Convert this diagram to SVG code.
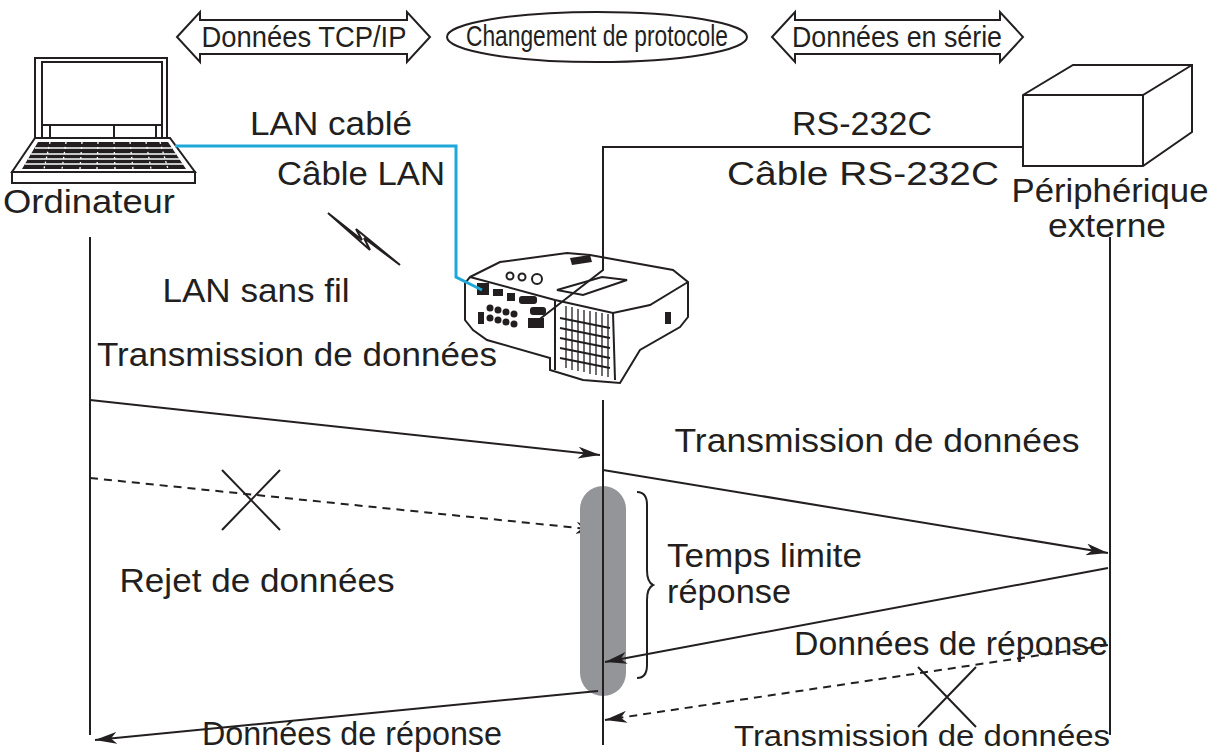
<svg xmlns="http://www.w3.org/2000/svg" width="1217" height="754" viewBox="0 0 1217 754">
<defs>
<marker id="ah" viewBox="0 0 22 12" refX="22" refY="6" markerWidth="22" markerHeight="12" markerUnits="userSpaceOnUse" orient="auto"><path d="M0,0 L22,6 L0,12 L6,6 Z" fill="#231f20"/></marker>
<style>
text{font-family:"Liberation Sans",Arial,sans-serif;fill:#231f20;font-size:33px}
.l{stroke:#231f20;stroke-width:2;fill:none}
.c{font-size:29px}
</style>
</defs>
<rect width="1217" height="754" fill="#fff"/>
<g id="laptop">
<rect x="35" y="58" width="132" height="80" class="l" fill="#fff"/>
<rect x="42" y="62" width="120" height="63" class="l" stroke-width="1.5"/>
<path d="M42,125 L42,138 M50,125 L50,138 M114,125 L114,138 M156,125 L156,138 M162,125 L162,138" class="l" stroke-width="1.5"/>
<path d="M35,138 L170,138 L195,172 L12,172 Z" class="l" fill="#fff"/>
<rect x="12" y="172" width="183" height="11" class="l" fill="#fff"/>
<path d="M38,142 L168,142 L186,169 L22,169 Z" fill="#231f20"/>
<g stroke="#fff" stroke-width="1.3">
<line x1="35" y1="148" x2="172" y2="148"/><line x1="31" y1="154" x2="176" y2="154"/><line x1="28" y1="159" x2="180" y2="159"/><line x1="25" y1="164" x2="183" y2="164"/>
<path d="M50,142 L44,169 M66,142 L62,169 M82,142 L80,169 M98,142 L97,169 M114,142 L115,169 M130,142 L133,169 M146,142 L151,169 M160,142 L168,169" stroke-dasharray="2,3"/>
</g>
<text x="89" y="213" text-anchor="middle" textLength="172" lengthAdjust="spacingAndGlyphs">Ordinateur</text>
</g>
<g id="top-labels">
<path d="M177,37 L200,12 L200,20 L407,20 L407,12 L430,37 L407,62 L407,54 L200,54 L200,62 Z" class="l" fill="#fff"/>
<text x="304" y="47" class="c" text-anchor="middle" textLength="205" lengthAdjust="spacingAndGlyphs">Données TCP/IP</text>
<ellipse cx="597" cy="37" rx="150" ry="25" class="l"/>
<text x="597" y="46" class="c" text-anchor="middle" font-size="26" textLength="262" lengthAdjust="spacingAndGlyphs">Changement de protocole</text>
<path d="M772,37 L795,12 L795,20 L1000,20 L1000,12 L1023,37 L1000,62 L1000,54 L795,54 L795,62 Z" class="l" fill="#fff"/>
<text x="897" y="47" class="c" text-anchor="middle" textLength="210" lengthAdjust="spacingAndGlyphs">Données en série</text>
</g>
<g id="device">
<path d="M1023,95 L1073,65 L1192,65 L1192,132 L1143,166 L1023,166 Z" class="l" fill="#fff"/>
<path d="M1023,95 L1143,95 L1192,65 M1143,95 L1143,166" class="l"/>
<text x="1110" y="202" text-anchor="middle" textLength="197" lengthAdjust="spacingAndGlyphs">Périphérique</text>
<text x="1107" y="237" text-anchor="middle" textLength="118" lengthAdjust="spacingAndGlyphs">externe</text>
</g>
<g id="projector">
<path d="M470,277 L500,262 L567,253 L590,255 L673,270 L688,282 L688,317 L680,327 L640,350 L620,383 L583,380 L550,370 L550,358 L487,340 L473,330 L465,320 L465,283 Z" class="l" fill="#fff"/>
<path d="M470,277 L555,300 L613,313 L650,305 L688,282" class="l" stroke-width="1.5"/>
<path d="M555,300 L555,370 M613,313 L615,380" class="l" stroke-width="1.5"/>
<path d="M557,290 L602,277 L627,280 L583,295 Z" class="l" stroke-width="1.5"/>
<path d="M570,258 L590,255 L592,262 L572,265 Z" fill="#231f20"/>
<g stroke="#231f20" stroke-width="2">
<path d="M560,318 L610,328 M560,328 L610,338 M560,338 L610,348 M560,348 L610,358 M560,358 L610,368"/>
<path d="M566,306 L566,368 M572,307 L572,370 M578,309 L578,371 M584,310 L584,372 M590,311 L590,374 M596,312 L596,375 M602,313 L602,376 M608,314 L608,377" stroke-width="1.3"/>
</g>
<g fill="#231f20">
<rect x="477" y="283" width="12" height="12"/><rect x="493" y="289" width="10" height="7"/><rect x="507" y="293" width="8" height="8"/>
<rect x="519" y="296" width="18" height="8" rx="3"/><rect x="530" y="307" width="16" height="8" rx="3"/><rect x="528" y="318" width="16" height="10"/>
<circle cx="490" cy="308" r="3.5"/><circle cx="498" cy="310" r="3.5"/><circle cx="506" cy="312" r="3.5"/><circle cx="514" cy="314" r="3.5"/>
<circle cx="490" cy="318" r="3.5"/><circle cx="498" cy="320" r="3.5"/><circle cx="506" cy="322" r="3.5"/><circle cx="514" cy="324" r="3.5"/>
<rect x="478" y="312" width="6" height="12"/><rect x="665" y="312" width="6" height="12"/>
</g>
<circle cx="510" cy="276" r="3.5" class="l" stroke-width="1.3"/><circle cx="522" cy="277" r="3.5" class="l" stroke-width="1.3"/><circle cx="537" cy="279" r="5" class="l" stroke-width="1.3"/>
</g>
<g id="connectors">
<path d="M175,146 L456,146 L456,277 L482,290" stroke="#1ea8d8" stroke-width="3" fill="none"/>
<path d="M1023,147 L603,147 L603,270 L536,322" class="l"/>
<path d="M328,213 L370,250 L364,238 L400,265 L356,229 L362,240 Z" class="l" stroke-width="1.5" fill="#fff"/>
<line x1="90" y1="237" x2="90" y2="735" class="l"/>
<line x1="603" y1="400" x2="603" y2="745" class="l"/>
<line x1="1110" y1="237" x2="1110" y2="735" class="l"/>
<line x1="90" y1="400" x2="600" y2="455" class="l" marker-end="url(#ah)"/>
<line x1="90" y1="478" x2="598" y2="530" class="l" stroke-dasharray="8,6" marker-end="url(#ah)"/>
<path d="M222,470 L280,530 M280,470 L222,530" class="l"/>
<rect x="580" y="486" width="46" height="210" rx="23" fill="#939598"/>
<line x1="603" y1="486" x2="603" y2="696" class="l"/>
<path d="M637,492 Q647,492 647,505 L647,570 Q647,582 653,585 Q647,588 647,600 L647,665 Q647,678 637,678" class="l"/>
<line x1="603" y1="470" x2="1108" y2="553" class="l" marker-end="url(#ah)"/>
<line x1="1108" y1="568" x2="605" y2="662" class="l" marker-end="url(#ah)"/>
<line x1="598" y1="691" x2="95" y2="740" class="l" marker-end="url(#ah)"/>
<line x1="1108" y1="645" x2="605" y2="720" class="l" stroke-dasharray="8,6" marker-end="url(#ah)"/>
<path d="M918,667 L976,727 M976,667 L918,727" class="l"/>
</g>
<g id="labels">
<text x="331" y="135" text-anchor="middle" textLength="162" lengthAdjust="spacingAndGlyphs">LAN cablé</text>
<text x="361" y="185" text-anchor="middle" textLength="168" lengthAdjust="spacingAndGlyphs">Câble LAN</text>
<text x="862" y="135" text-anchor="middle" textLength="140" lengthAdjust="spacingAndGlyphs">RS-232C</text>
<text x="863" y="185" text-anchor="middle" textLength="272" lengthAdjust="spacingAndGlyphs">Câble RS-232C</text>
<text x="256" y="302" text-anchor="middle" textLength="187" lengthAdjust="spacingAndGlyphs">LAN sans fil</text>
<text x="97" y="366" textLength="400" lengthAdjust="spacingAndGlyphs">Transmission de données</text>
<text x="257" y="592" text-anchor="middle" textLength="275" lengthAdjust="spacingAndGlyphs">Rejet de données</text>
<text x="877" y="452" text-anchor="middle" textLength="405" lengthAdjust="spacingAndGlyphs">Transmission de données</text>
<text x="667" y="567" textLength="195" lengthAdjust="spacingAndGlyphs">Temps limite</text>
<text x="667" y="603" textLength="124" lengthAdjust="spacingAndGlyphs">réponse</text>
<text x="951" y="655" text-anchor="middle" textLength="314" lengthAdjust="spacingAndGlyphs">Données de réponse</text>
<text x="352" y="745" text-anchor="middle" textLength="300" lengthAdjust="spacingAndGlyphs">Données de réponse</text>
<text x="922" y="746" class="c" text-anchor="middle" font-size="25" textLength="376" lengthAdjust="spacingAndGlyphs">Transmission de données</text>
</g>
</svg>
